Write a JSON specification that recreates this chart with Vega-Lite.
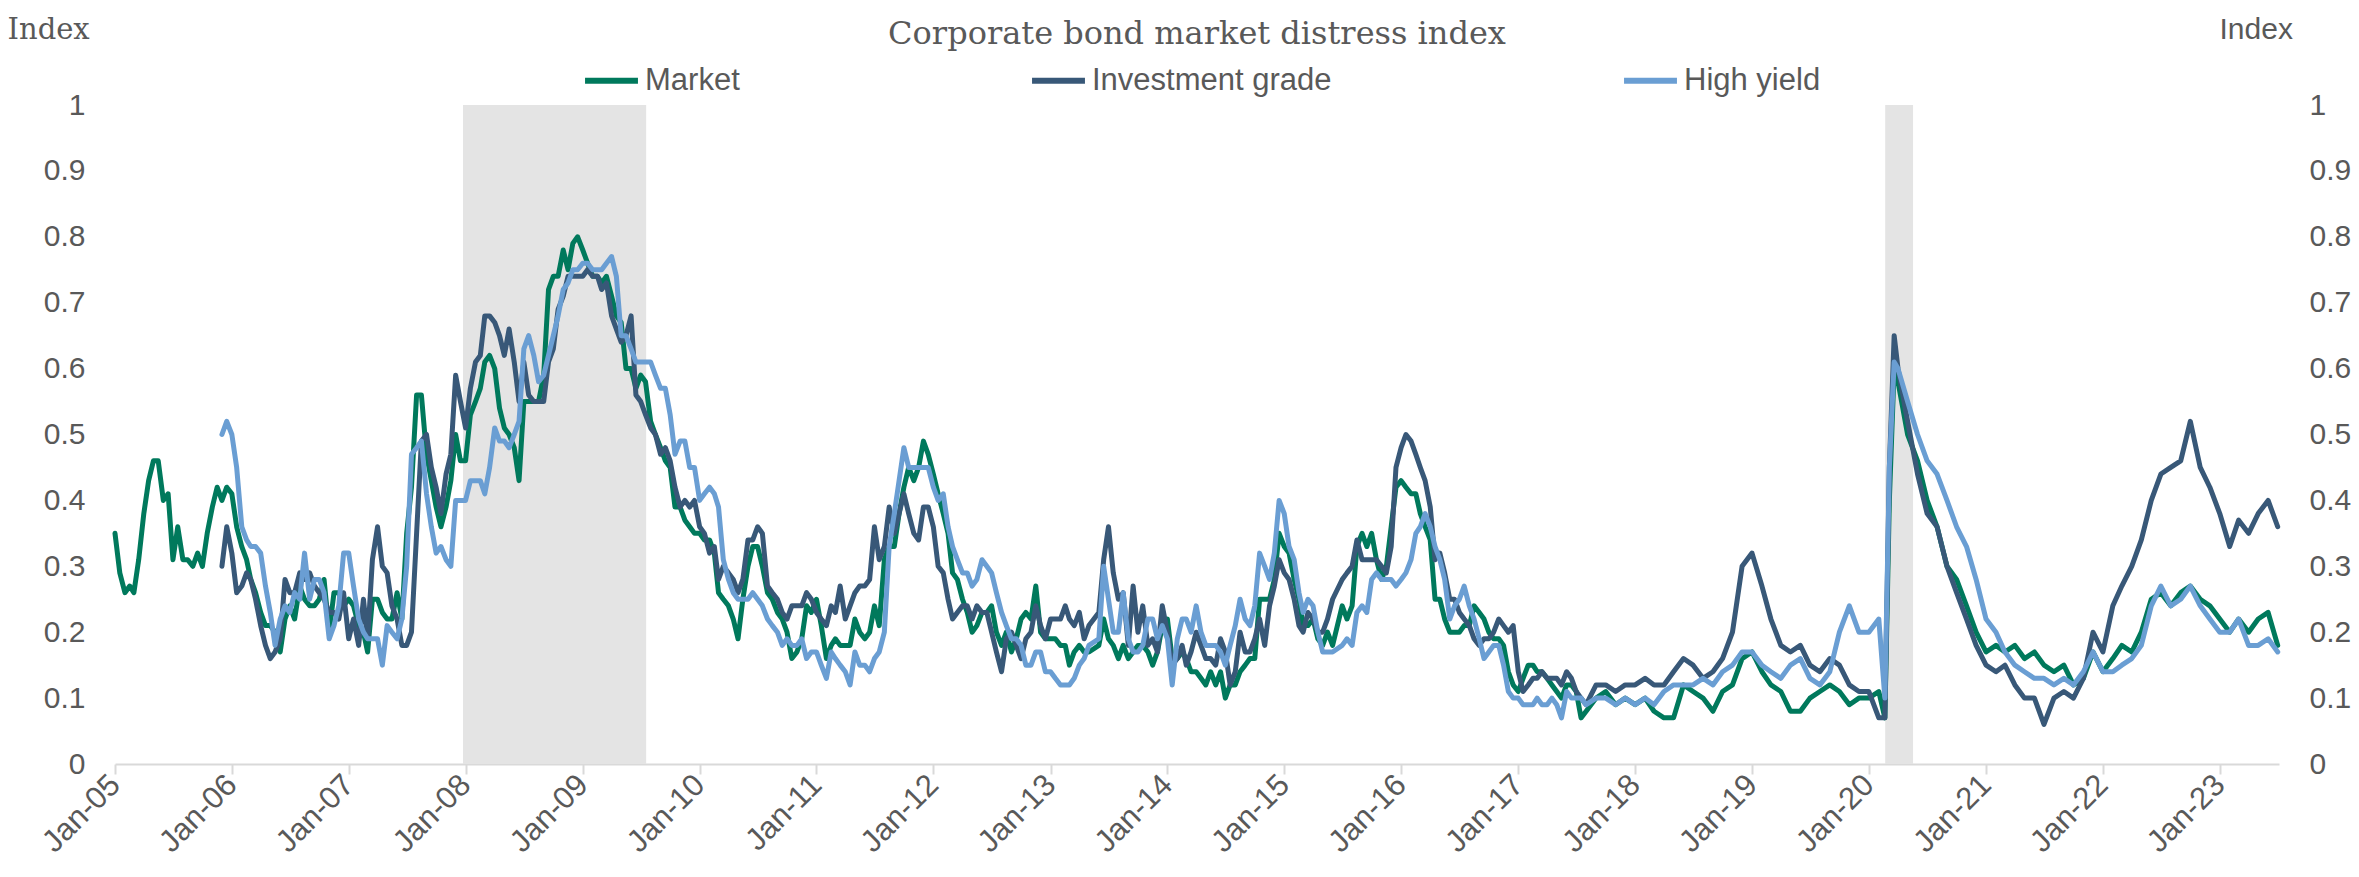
{
"$schema":"https://vega.github.io/schema/vega-lite/v6.json",
"width":2164,"height":659,
"autosize":{"type":"none"},
"padding":{"left":115,"top":105,"right":80,"bottom":113},
"background":"white",
"config":{"view":{"stroke":null},"font":"Liberation Sans"},
"title":{"text":"Corporate bond market distress index","font":"DejaVu Serif","fontSize":32,"fontWeight":"normal","color":"#595959","anchor":"middle","frame":"group","baseline":"alphabetic","offset":-62},
"datasets":{
"r":[{"s":"2007-12-24","e":"2009-07-18"},{"s":"2020-02-21","e":"2020-05-18"}],
"s":[
{"d":"2005-01-01","m":0.35},{"d":"2005-01-16","m":0.29},{"d":"2005-02-01","m":0.26},{"d":"2005-02-16","m":0.27},
{"d":"2005-03-01","m":0.26},{"d":"2005-03-16","m":0.31},{"d":"2005-04-01","m":0.38},{"d":"2005-04-16","m":0.43},
{"d":"2005-05-01","m":0.46},{"d":"2005-05-16","m":0.46},{"d":"2005-06-01","m":0.40},{"d":"2005-06-16","m":0.41},
{"d":"2005-07-01","m":0.31},{"d":"2005-07-16","m":0.36},{"d":"2005-08-01","m":0.31},{"d":"2005-08-16","m":0.31},
{"d":"2005-09-01","m":0.30},{"d":"2005-09-16","m":0.32},{"d":"2005-10-01","m":0.30},{"d":"2005-10-16","m":0.35},
{"d":"2005-11-01","m":0.39},{"d":"2005-11-16","m":0.42},
{"d":"2005-12-01","m":0.40,"i":0.30,"h":0.50},{"d":"2005-12-16","m":0.42,"i":0.36,"h":0.52},
{"d":"2006-01-01","m":0.41,"i":0.32,"h":0.50},{"d":"2006-01-16","m":0.36,"i":0.26,"h":0.45},
{"d":"2006-02-01","m":0.33,"i":0.27,"h":0.36},{"d":"2006-02-16","m":0.31,"i":0.29,"h":0.34},
{"d":"2006-03-01","m":0.28,"i":0.28,"h":0.33},{"d":"2006-03-16","m":0.26,"i":0.25,"h":0.33},
{"d":"2006-04-01","m":0.23,"i":0.21,"h":0.32},{"d":"2006-04-16","m":0.21,"i":0.18,"h":0.27},
{"d":"2006-05-01","m":0.21,"i":0.16,"h":0.23},{"d":"2006-05-16","m":0.20,"i":0.17,"h":0.18},
{"d":"2006-06-01","m":0.17,"i":0.19,"h":0.22},{"d":"2006-06-16","m":0.22,"i":0.28,"h":0.24},
{"d":"2006-07-01","m":0.24,"i":0.26,"h":0.23},{"d":"2006-07-16","m":0.22,"i":0.26,"h":0.26},
{"d":"2006-08-01","m":0.27,"i":0.29,"h":0.25},{"d":"2006-08-16","m":0.25,"i":0.28,"h":0.32},
{"d":"2006-09-01","m":0.24,"i":0.29,"h":0.25},{"d":"2006-09-16","m":0.24,"i":0.27,"h":0.28},
{"d":"2006-10-01","m":0.25,"i":0.26,"h":0.28},{"d":"2006-10-16","m":0.28,"i":0.25,"h":0.26},
{"d":"2006-11-01","m":0.20,"i":0.23,"h":0.19},{"d":"2006-11-16","m":0.26,"i":0.23,"h":0.21},
{"d":"2006-12-01","m":0.26,"i":0.22,"h":0.24},{"d":"2006-12-16","m":0.24,"i":0.26,"h":0.32},
{"d":"2007-01-01","m":0.25,"i":0.19,"h":0.32},{"d":"2007-01-16","m":0.24,"i":0.22,"h":0.27},
{"d":"2007-02-01","m":0.21,"i":0.18,"h":0.22},{"d":"2007-02-16","m":0.20,"i":0.25,"h":0.20},
{"d":"2007-03-01","m":0.17,"i":0.19,"h":0.19},{"d":"2007-03-16","m":0.25,"i":0.31,"h":0.19},
{"d":"2007-04-01","m":0.25,"i":0.36,"h":0.19},{"d":"2007-04-16","m":0.23,"i":0.30,"h":0.15},
{"d":"2007-05-01","m":0.22,"i":0.29,"h":0.21},{"d":"2007-05-16","m":0.22,"i":0.24,"h":0.20},
{"d":"2007-06-01","m":0.26,"i":0.22,"h":0.19},{"d":"2007-06-16","m":0.22,"i":0.18,"h":0.22},
{"d":"2007-07-01","m":0.35,"i":0.18,"h":0.30},{"d":"2007-07-16","m":0.42,"i":0.20,"h":0.47},
{"d":"2007-08-01","m":0.56,"i":0.35,"h":0.48},{"d":"2007-08-16","m":0.56,"i":0.49,"h":0.49},
{"d":"2007-09-01","m":0.47,"i":0.50,"h":0.41},{"d":"2007-09-16","m":0.43,"i":0.45,"h":0.36},
{"d":"2007-10-01","m":0.39,"i":0.42,"h":0.32},{"d":"2007-10-16","m":0.36,"i":0.38,"h":0.33},
{"d":"2007-11-01","m":0.39,"i":0.44,"h":0.31},{"d":"2007-11-16","m":0.43,"i":0.47,"h":0.30},
{"d":"2007-12-01","m":0.50,"i":0.59,"h":0.40},{"d":"2007-12-16","m":0.46,"i":0.55,"h":0.40},
{"d":"2008-01-01","m":0.46,"i":0.51,"h":0.40},{"d":"2008-01-16","m":0.53,"i":0.57,"h":0.43},
{"d":"2008-02-01","m":0.55,"i":0.61,"h":0.43},{"d":"2008-02-16","m":0.57,"i":0.62,"h":0.43},
{"d":"2008-03-01","m":0.61,"i":0.68,"h":0.41},{"d":"2008-03-16","m":0.62,"i":0.68,"h":0.45},
{"d":"2008-04-01","m":0.60,"i":0.67,"h":0.51},{"d":"2008-04-16","m":0.54,"i":0.65,"h":0.49},
{"d":"2008-05-01","m":0.51,"i":0.62,"h":0.49},{"d":"2008-05-16","m":0.50,"i":0.66,"h":0.48},
{"d":"2008-06-01","m":0.48,"i":0.61,"h":0.50},{"d":"2008-06-16","m":0.43,"i":0.55,"h":0.52},
{"d":"2008-07-01","m":0.55,"i":0.61,"h":0.63},{"d":"2008-07-16","m":0.55,"i":0.56,"h":0.65},
{"d":"2008-08-01","m":0.55,"i":0.55,"h":0.62},{"d":"2008-08-16","m":0.55,"i":0.55,"h":0.58},
{"d":"2008-09-01","m":0.59,"i":0.55,"h":0.59},{"d":"2008-09-16","m":0.72,"i":0.61,"h":0.62},
{"d":"2008-10-01","m":0.74,"i":0.63,"h":0.65},{"d":"2008-10-16","m":0.74,"i":0.69,"h":0.68},
{"d":"2008-11-01","m":0.78,"i":0.71,"h":0.72},{"d":"2008-11-16","m":0.75,"i":0.74,"h":0.73},
{"d":"2008-12-01","m":0.79,"i":0.74,"h":0.75},{"d":"2008-12-16","m":0.80,"i":0.74,"h":0.75},
{"d":"2009-01-01","m":0.78,"i":0.74,"h":0.76},{"d":"2009-01-16","m":0.76,"i":0.75,"h":0.76},
{"d":"2009-02-01","m":0.74,"i":0.74,"h":0.75},{"d":"2009-02-16","m":0.74,"i":0.74,"h":0.75},
{"d":"2009-03-01","m":0.73,"i":0.72,"h":0.75},{"d":"2009-03-16","m":0.74,"i":0.73,"h":0.76},
{"d":"2009-04-01","m":0.71,"i":0.68,"h":0.77},{"d":"2009-04-16","m":0.68,"i":0.66,"h":0.74},
{"d":"2009-05-01","m":0.67,"i":0.64,"h":0.65},{"d":"2009-05-16","m":0.60,"i":0.65,"h":0.65},
{"d":"2009-06-01","m":0.60,"i":0.68,"h":0.63},{"d":"2009-06-16","m":0.57,"i":0.56,"h":0.61},
{"d":"2009-07-01","m":0.59,"i":0.55,"h":0.61},{"d":"2009-07-16","m":0.58,"i":0.53,"h":0.61},
{"d":"2009-08-01","m":0.52,"i":0.51,"h":0.61},{"d":"2009-08-16","m":0.50,"i":0.50,"h":0.59},
{"d":"2009-09-01","m":0.48,"i":0.47,"h":0.57},{"d":"2009-09-16","m":0.46,"i":0.48,"h":0.57},
{"d":"2009-10-01","m":0.45,"i":0.46,"h":0.53},{"d":"2009-10-16","m":0.39,"i":0.42,"h":0.47},
{"d":"2009-11-01","m":0.39,"i":0.39,"h":0.49},{"d":"2009-11-16","m":0.37,"i":0.40,"h":0.49},
{"d":"2009-12-01","m":0.36,"i":0.39,"h":0.45},{"d":"2009-12-16","m":0.35,"i":0.40,"h":0.45},
{"d":"2010-01-01","m":0.35,"i":0.36,"h":0.40},{"d":"2010-01-16","m":0.34,"i":0.35,"h":0.41},
{"d":"2010-02-01","m":0.34,"i":0.32,"h":0.42},{"d":"2010-02-16","m":0.32,"i":0.33,"h":0.41},
{"d":"2010-03-01","m":0.26,"i":0.28,"h":0.39},{"d":"2010-03-16","m":0.25,"i":0.30,"h":0.31},
{"d":"2010-04-01","m":0.24,"i":0.29,"h":0.28},{"d":"2010-04-16","m":0.22,"i":0.28,"h":0.26},
{"d":"2010-05-01","m":0.19,"i":0.26,"h":0.25},{"d":"2010-05-16","m":0.25,"i":0.28,"h":0.25},
{"d":"2010-06-01","m":0.30,"i":0.34,"h":0.25},{"d":"2010-06-16","m":0.33,"i":0.34,"h":0.26},
{"d":"2010-07-01","m":0.33,"i":0.36,"h":0.25},{"d":"2010-07-16","m":0.30,"i":0.35,"h":0.24},
{"d":"2010-08-01","m":0.26,"i":0.27,"h":0.22},{"d":"2010-08-16","m":0.25,"i":0.26,"h":0.21},
{"d":"2010-09-01","m":0.23,"i":0.25,"h":0.20},{"d":"2010-09-16","m":0.22,"i":0.23,"h":0.18},
{"d":"2010-10-01","m":0.20,"i":0.22,"h":0.19},{"d":"2010-10-16","m":0.16,"i":0.24,"h":0.18},
{"d":"2010-11-01","m":0.17,"i":0.24,"h":0.18},{"d":"2010-11-16","m":0.19,"i":0.24,"h":0.19},
{"d":"2010-12-01","m":0.24,"i":0.26,"h":0.16},{"d":"2010-12-16","m":0.23,"i":0.25,"h":0.17},
{"d":"2011-01-01","m":0.25,"i":0.23,"h":0.17},{"d":"2011-01-16","m":0.21,"i":0.22,"h":0.15},
{"d":"2011-02-01","m":0.16,"i":0.21,"h":0.13},{"d":"2011-02-16","m":0.18,"i":0.24,"h":0.17},
{"d":"2011-03-01","m":0.19,"i":0.23,"h":0.16},{"d":"2011-03-16","m":0.18,"i":0.27,"h":0.15},
{"d":"2011-04-01","m":0.18,"i":0.22,"h":0.14},{"d":"2011-04-16","m":0.18,"i":0.24,"h":0.12},
{"d":"2011-05-01","m":0.22,"i":0.26,"h":0.17},{"d":"2011-05-16","m":0.20,"i":0.27,"h":0.15},
{"d":"2011-06-01","m":0.19,"i":0.27,"h":0.15},{"d":"2011-06-16","m":0.20,"i":0.28,"h":0.14},
{"d":"2011-07-01","m":0.24,"i":0.36,"h":0.16},{"d":"2011-07-16","m":0.21,"i":0.31,"h":0.17},
{"d":"2011-08-01","m":0.31,"i":0.33,"h":0.20},{"d":"2011-08-16","m":0.33,"i":0.39,"h":0.33},
{"d":"2011-09-01","m":0.33,"i":0.35,"h":0.38},{"d":"2011-09-16","m":0.38,"i":0.38,"h":0.43},
{"d":"2011-10-01","m":0.42,"i":0.41,"h":0.48},{"d":"2011-10-16","m":0.45,"i":0.38,"h":0.45},
{"d":"2011-11-01","m":0.43,"i":0.35,"h":0.45},{"d":"2011-11-16","m":0.45,"i":0.34,"h":0.45},
{"d":"2011-12-01","m":0.49,"i":0.39,"h":0.45},{"d":"2011-12-16","m":0.47,"i":0.39,"h":0.45},
{"d":"2012-01-01","m":0.44,"i":0.36,"h":0.42},{"d":"2012-01-16","m":0.41,"i":0.30,"h":0.40},
{"d":"2012-02-01","m":0.38,"i":0.29,"h":0.41},{"d":"2012-02-16","m":0.35,"i":0.25,"h":0.36},
{"d":"2012-03-01","m":0.29,"i":0.22,"h":0.33},{"d":"2012-03-16","m":0.28,"i":0.23,"h":0.31},
{"d":"2012-04-01","m":0.25,"i":0.24,"h":0.29},{"d":"2012-04-16","m":0.23,"i":0.24,"h":0.29},
{"d":"2012-05-01","m":0.20,"i":0.22,"h":0.27},{"d":"2012-05-16","m":0.21,"i":0.24,"h":0.28},
{"d":"2012-06-01","m":0.23,"i":0.23,"h":0.31},{"d":"2012-06-16","m":0.23,"i":0.23,"h":0.30},
{"d":"2012-07-01","m":0.24,"i":0.20,"h":0.29},{"d":"2012-07-16","m":0.20,"i":0.17,"h":0.26},
{"d":"2012-08-01","m":0.18,"i":0.14,"h":0.23},{"d":"2012-08-16","m":0.20,"i":0.19,"h":0.21},
{"d":"2012-09-01","m":0.17,"i":0.20,"h":0.19},{"d":"2012-09-16","m":0.19,"i":0.18,"h":0.19},
{"d":"2012-10-01","m":0.22,"i":0.16,"h":0.18},{"d":"2012-10-16","m":0.23,"i":0.19,"h":0.15},
{"d":"2012-11-01","m":0.22,"i":0.20,"h":0.15},{"d":"2012-11-16","m":0.27,"i":0.24,"h":0.17},
{"d":"2012-12-01","m":0.20,"i":0.21,"h":0.17},{"d":"2012-12-16","m":0.19,"i":0.19,"h":0.14},
{"d":"2013-01-01","m":0.19,"i":0.22,"h":0.14},{"d":"2013-01-16","m":0.19,"i":0.22,"h":0.13},
{"d":"2013-02-01","m":0.18,"i":0.22,"h":0.12},{"d":"2013-02-16","m":0.18,"i":0.24,"h":0.12},
{"d":"2013-03-01","m":0.15,"i":0.22,"h":0.12},{"d":"2013-03-16","m":0.17,"i":0.21,"h":0.13},
{"d":"2013-04-01","m":0.18,"i":0.23,"h":0.15},{"d":"2013-04-16","m":0.17,"i":0.19,"h":0.16},
{"d":"2013-05-01","m":0.17,"i":0.21,"h":0.18},
{"d":"2013-06-01","m":0.18,"i":0.23,"h":0.19},{"d":"2013-06-16","m":0.22,"i":0.31,"h":0.30},
{"d":"2013-07-01","m":0.19,"i":0.36,"h":0.25},{"d":"2013-07-16","m":0.18,"i":0.29,"h":0.20},
{"d":"2013-08-01","m":0.16,"i":0.25,"h":0.20},{"d":"2013-08-16","m":0.18,"i":0.26,"h":0.26},
{"d":"2013-09-01","m":0.16,"i":0.18,"h":0.19},{"d":"2013-09-16","m":0.17,"i":0.27,"h":0.17},
{"d":"2013-10-01","m":0.18,"i":0.20,"h":0.17},{"d":"2013-10-16","m":0.18,"i":0.24,"h":0.18},
{"d":"2013-11-01","m":0.17,"i":0.18,"h":0.22},{"d":"2013-11-16","m":0.15,"i":0.19,"h":0.22},
{"d":"2013-12-01","m":0.17,"i":0.17,"h":0.19},{"d":"2013-12-16","m":0.21,"i":0.24,"h":0.21},
{"d":"2014-01-01","m":0.22,"i":0.20,"h":0.19},{"d":"2014-01-16","m":0.16,"i":0.15,"h":0.12},
{"d":"2014-02-01","m":0.16,"i":0.16,"h":0.19},{"d":"2014-02-16","m":0.17,"i":0.18,"h":0.22},
{"d":"2014-03-01","m":0.16,"i":0.15,"h":0.22},{"d":"2014-03-16","m":0.14,"i":0.17,"h":0.20},
{"d":"2014-04-01","m":0.14,"i":0.20,"h":0.24},{"d":"2014-04-16","m":0.13,"i":0.18,"h":0.20},
{"d":"2014-05-01","m":0.12,"i":0.16,"h":0.18},{"d":"2014-05-16","m":0.14,"i":0.16,"h":0.18},
{"d":"2014-06-01","m":0.12,"i":0.15,"h":0.18},{"d":"2014-06-16","m":0.14,"i":0.19,"h":0.17},
{"d":"2014-07-01","m":0.10,"i":0.17,"h":0.15},{"d":"2014-07-16","m":0.12,"i":0.12,"h":0.18},
{"d":"2014-08-01","m":0.12,"i":0.14,"h":0.21},{"d":"2014-08-16","m":0.14,"i":0.20,"h":0.25},
{"d":"2014-09-01","m":0.15,"i":0.17,"h":0.22},{"d":"2014-09-16","m":0.16,"i":0.17,"h":0.21},
{"d":"2014-10-01","m":0.16,"i":0.19,"h":0.24},{"d":"2014-10-16","m":0.25,"i":0.22,"h":0.32},
{"d":"2014-11-01","m":0.25,"i":0.18,"h":0.30},{"d":"2014-11-16","m":0.25,"i":0.24,"h":0.28},
{"d":"2014-12-01","m":0.28,"i":0.27,"h":0.32},{"d":"2014-12-16","m":0.35,"i":0.31,"h":0.40},
{"d":"2015-01-01","m":0.33,"i":0.29,"h":0.38},{"d":"2015-01-16","m":0.32,"i":0.28,"h":0.33},
{"d":"2015-02-01","m":0.28,"i":0.25,"h":0.31},{"d":"2015-02-16","m":0.25,"i":0.21,"h":0.26},
{"d":"2015-03-01","m":0.21,"i":0.20,"h":0.23},{"d":"2015-03-16","m":0.21,"i":0.23,"h":0.25},
{"d":"2015-04-01","m":0.22,"i":0.22,"h":0.24},{"d":"2015-04-16","m":0.19,"i":0.20,"h":0.20},
{"d":"2015-05-01","m":0.18,"i":0.20,"h":0.17},{"d":"2015-05-16","m":0.20,"i":0.22,"h":0.17},
{"d":"2015-06-01","m":0.18,"i":0.25,"h":0.17},
{"d":"2015-07-01","m":0.24,"i":0.28,"h":0.18},{"d":"2015-07-16","m":0.22,"i":0.29,"h":0.19},
{"d":"2015-08-01","m":0.24,"i":0.30,"h":0.18},{"d":"2015-08-16","m":0.33,"i":0.34,"h":0.23},
{"d":"2015-09-01","m":0.35,"i":0.31,"h":0.24},{"d":"2015-09-16","m":0.33,"i":0.31,"h":0.23},
{"d":"2015-10-01","m":0.35,"i":0.31,"h":0.28},{"d":"2015-10-16","m":0.31,"i":0.31,"h":0.29},
{"d":"2015-11-01","m":0.28,"i":0.30,"h":0.28},{"d":"2015-11-16","m":0.30,"i":0.29,"h":0.28},
{"d":"2015-12-01","m":0.36,"i":0.33,"h":0.28},{"d":"2015-12-16","m":0.42,"i":0.45,"h":0.27},
{"d":"2016-01-01","m":0.43,"i":0.48,"h":0.28},{"d":"2016-01-16","m":0.42,"i":0.50,"h":0.29},
{"d":"2016-02-01","m":0.41,"i":0.49,"h":0.31},{"d":"2016-02-16","m":0.41,"i":0.47,"h":0.35},
{"d":"2016-03-01","m":0.38,"i":0.45,"h":0.36},{"d":"2016-03-16","m":0.36,"i":0.43,"h":0.38},
{"d":"2016-04-01","m":0.34,"i":0.39,"h":0.36},{"d":"2016-04-16","m":0.25,"i":0.31,"h":0.33},
{"d":"2016-05-01","m":0.25,"i":0.32,"h":0.31},{"d":"2016-05-16","m":0.22,"i":0.29,"h":0.28},
{"d":"2016-06-01","m":0.20,"i":0.25,"h":0.22},{"d":"2016-06-16","m":0.20,"i":0.25,"h":0.24},
{"d":"2016-07-01","m":0.20,"i":0.23,"h":0.25},{"d":"2016-07-16","m":0.21,"i":0.22,"h":0.27},
{"d":"2016-08-01","m":0.21,"i":0.21,"h":0.24},{"d":"2016-08-16","m":0.24,"i":0.19,"h":0.22},
{"d":"2016-09-01","m":0.23,"i":0.18,"h":0.19},{"d":"2016-09-16","m":0.22,"i":0.19,"h":0.16},
{"d":"2016-10-01","m":0.20,"i":0.19,"h":0.17},{"d":"2016-10-16","m":0.19,"i":0.20,"h":0.18},
{"d":"2016-11-01","m":0.19,"i":0.22,"h":0.18},{"d":"2016-11-16","m":0.18,"i":0.21,"h":0.15},
{"d":"2016-12-01","m":0.14,"i":0.20,"h":0.11},{"d":"2016-12-16","m":0.12,"i":0.21,"h":0.10},
{"d":"2017-01-01","m":0.11,"i":0.14,"h":0.10},{"d":"2017-01-16","m":0.13,"i":0.11,"h":0.09},
{"d":"2017-02-01","m":0.15,"i":0.12,"h":0.09},{"d":"2017-02-16","m":0.15,"i":0.13,"h":0.09},
{"d":"2017-03-01","m":0.14,"i":0.13,"h":0.10},{"d":"2017-03-16","m":0.14,"i":0.14,"h":0.09},
{"d":"2017-04-01","m":0.13,"i":0.13,"h":0.09},{"d":"2017-04-16","m":0.12,"i":0.13,"h":0.10},
{"d":"2017-05-01","m":0.11,"i":0.13,"h":0.09},{"d":"2017-05-16","m":0.10,"i":0.12,"h":0.07},
{"d":"2017-06-01","m":0.12,"i":0.14,"h":0.11},{"d":"2017-06-16","m":0.12,"i":0.13,"h":0.10},
{"d":"2017-07-01","m":0.11,"i":0.11,"h":0.10},{"d":"2017-07-16","m":0.07,"i":0.10,"h":0.10},
{"d":"2017-08-01","m":0.08,"i":0.09,"h":0.09},
{"d":"2017-09-01","m":0.10,"i":0.12,"h":0.10},{"d":"2017-10-01","m":0.11,"i":0.12,"h":0.10},
{"d":"2017-11-01","m":0.09,"i":0.11,"h":0.09},{"d":"2017-12-01","m":0.10,"i":0.12,"h":0.10},
{"d":"2018-01-01","m":0.09,"i":0.12,"h":0.09},{"d":"2018-02-01","m":0.10,"i":0.13,"h":0.10},
{"d":"2018-03-01","m":0.08,"i":0.12,"h":0.09},{"d":"2018-04-01","m":0.07,"i":0.12,"h":0.11},
{"d":"2018-05-01","m":0.07,"i":0.14,"h":0.12},{"d":"2018-06-01","m":0.12,"i":0.16,"h":0.12},
{"d":"2018-07-01","m":0.11,"i":0.15,"h":0.12},{"d":"2018-08-01","m":0.10,"i":0.13,"h":0.13},
{"d":"2018-09-01","m":0.08,"i":0.14,"h":0.12},{"d":"2018-10-01","m":0.11,"i":0.16,"h":0.14},
{"d":"2018-11-01","m":0.12,"i":0.20,"h":0.15},{"d":"2018-12-01","m":0.16,"i":0.30,"h":0.17},
{"d":"2019-01-01","m":0.17,"i":0.32,"h":0.17},{"d":"2019-02-01","m":0.14,"i":0.27,"h":0.15},
{"d":"2019-03-01","m":0.12,"i":0.22,"h":0.14},{"d":"2019-04-01","m":0.11,"i":0.18,"h":0.13},
{"d":"2019-05-01","m":0.08,"i":0.17,"h":0.15},{"d":"2019-06-01","m":0.08,"i":0.18,"h":0.16},
{"d":"2019-07-01","m":0.10,"i":0.15,"h":0.13},{"d":"2019-08-01","m":0.11,"i":0.14,"h":0.12},
{"d":"2019-09-01","m":0.12,"i":0.16,"h":0.14},{"d":"2019-10-01","m":0.11,"i":0.15,"h":0.20},
{"d":"2019-11-01","m":0.09,"i":0.12,"h":0.24},{"d":"2019-12-01","m":0.10,"i":0.11,"h":0.20},
{"d":"2020-01-01","m":0.10,"i":0.11,"h":0.20},{"d":"2020-02-01","m":0.11,"i":0.07,"h":0.22},
{"d":"2020-02-20","m":0.07,"i":0.07,"h":0.10},{"d":"2020-03-05","m":0.40,"i":0.45,"h":0.45},
{"d":"2020-03-20","m":0.60,"i":0.65,"h":0.61},{"d":"2020-04-01","m":0.58,"i":0.60,"h":0.60},
{"d":"2020-05-01","m":0.50,"i":0.52,"h":0.55},{"d":"2020-06-01","m":0.46,"i":0.44,"h":0.50},
{"d":"2020-07-01","m":0.40,"i":0.38,"h":0.46},{"d":"2020-08-01","m":0.36,"i":0.36,"h":0.44},
{"d":"2020-09-01","m":0.30,"i":0.30,"h":0.40},{"d":"2020-10-01","m":0.28,"i":0.26,"h":0.36},
{"d":"2020-11-01","m":0.24,"i":0.22,"h":0.33},{"d":"2020-12-01","m":0.20,"i":0.18,"h":0.28},
{"d":"2021-01-01","m":0.17,"i":0.15,"h":0.22},{"d":"2021-02-01","m":0.18,"i":0.14,"h":0.20},
{"d":"2021-03-01","m":0.17,"i":0.15,"h":0.17},{"d":"2021-04-01","m":0.18,"i":0.12,"h":0.15},
{"d":"2021-05-01","m":0.16,"i":0.10,"h":0.14},{"d":"2021-06-01","m":0.17,"i":0.10,"h":0.13},
{"d":"2021-07-01","m":0.15,"i":0.06,"h":0.13},{"d":"2021-08-01","m":0.14,"i":0.10,"h":0.12},
{"d":"2021-09-01","m":0.15,"i":0.11,"h":0.13},{"d":"2021-10-01","m":0.12,"i":0.10,"h":0.12},
{"d":"2021-11-01","m":0.13,"i":0.13,"h":0.14},{"d":"2021-12-01","m":0.17,"i":0.20,"h":0.17},
{"d":"2022-01-01","m":0.14,"i":0.17,"h":0.14},{"d":"2022-02-01","m":0.16,"i":0.24,"h":0.14},
{"d":"2022-03-01","m":0.18,"i":0.27,"h":0.15},{"d":"2022-04-01","m":0.17,"i":0.30,"h":0.16},
{"d":"2022-05-01","m":0.20,"i":0.34,"h":0.18},{"d":"2022-06-01","m":0.25,"i":0.40,"h":0.24},
{"d":"2022-07-01","m":0.26,"i":0.44,"h":0.27},{"d":"2022-08-01","m":0.24,"i":0.45,"h":0.24},
{"d":"2022-09-01","m":0.26,"i":0.46,"h":0.25},{"d":"2022-10-01","m":0.27,"i":0.52,"h":0.27},
{"d":"2022-11-01","m":0.25,"i":0.45,"h":0.24},{"d":"2022-12-01","m":0.24,"i":0.42,"h":0.22},
{"d":"2023-01-01","m":0.22,"i":0.38,"h":0.20},{"d":"2023-02-01","m":0.20,"i":0.33,"h":0.20},
{"d":"2023-03-01","m":0.22,"i":0.37,"h":0.22},{"d":"2023-04-01","m":0.20,"i":0.35,"h":0.18},
{"d":"2023-05-01","m":0.22,"i":0.38,"h":0.18},{"d":"2023-06-01","m":0.23,"i":0.40,"h":0.19},
{"d":"2023-07-01","m":0.18,"i":0.36,"h":0.17}
]},
"layer":[
{"data":{"name":"r"},"mark":{"type":"rect","color":"#E4E4E4"},
 "encoding":{
  "x":{"field":"s","type":"temporal",
   "scale":{"type":"utc","domain":[{"year":2005,"month":1,"date":1,"utc":true},{"year":2023,"month":7,"date":5,"utc":true}],"nice":false},
   "axis":{"tickCount":{"interval":"year","step":1},"format":"%b-%y","labelAngle":-45,"labelAlign":"right","labelBaseline":"middle","labelFontSize":31,"labelColor":"#595959","labelPadding":6,"labelOverlap":false,"labelBound":false,"labelFlush":false,"domainColor":"#D9D9D9","domainWidth":2,"tickColor":"#D9D9D9","tickWidth":2,"tickSize":10,"grid":false,"title":null}},
  "x2":{"field":"e"}}},
{"data":{"name":"s"},"mark":{"type":"line","strokeWidth":5,"strokeJoin":"round","strokeCap":"round"},
 "encoding":{
  "x":{"field":"d","type":"temporal"},
  "y":{"field":"m","type":"quantitative","scale":{"domain":[0,1],"nice":false},
   "axis":{"orient":"left","values":[0,0.1,0.2,0.3,0.4,0.5,0.6,0.7,0.8,0.9,1],"format":"~g","labelFontSize":30,"labelColor":"#595959","labelPadding":30,"domain":false,"ticks":false,"grid":false,
    "title":"Index","titleFont":"DejaVu Serif","titleFontSize":29,"titleFontWeight":"normal","titleColor":"#595959","titleAngle":0,"titleAlign":"left","titleBaseline":"alphabetic","titleX":-108,"titleY":-67}},
  "color":{"datum":"Market","type":"nominal",
   "scale":{"domain":["Market","Investment grade","High yield"],"range":["#00795C","#385878","#6A9ED3"]},
   "legend":{"orient":"none","legendX":467,"legendY":-54,"direction":"horizontal","title":null,"symbolType":"stroke","symbolStrokeWidth":6,"symbolSize":2800,"labelFontSize":31,"labelColor":"#595959","labelLimit":600,"columnPadding":280,"labelOffset":4,"padding":0}}}},
{"data":{"name":"s"},"mark":{"type":"line","strokeWidth":5,"strokeJoin":"round","strokeCap":"round"},
 "encoding":{
  "x":{"field":"d","type":"temporal"},
  "y":{"field":"i","type":"quantitative","axis":null},
  "color":{"datum":"Investment grade","type":"nominal"}}},
{"data":{"name":"s"},"mark":{"type":"line","strokeWidth":5,"strokeJoin":"round","strokeCap":"round"},
 "encoding":{
  "x":{"field":"d","type":"temporal"},
  "y":{"field":"h","type":"quantitative",
   "axis":{"orient":"right","values":[0,0.1,0.2,0.3,0.4,0.5,0.6,0.7,0.8,0.9,1],"format":"~g","labelFontSize":30,"labelColor":"#595959","labelPadding":30,"domain":false,"ticks":false,"grid":false,
    "title":"Index","titleFontSize":30,"titleFontWeight":"normal","titleColor":"#595959","titleAngle":0,"titleAlign":"left","titleBaseline":"alphabetic","titleX":-60,"titleY":-67}},
  "color":{"datum":"High yield","type":"nominal"}}}
],
"resolve":{"axis":{"y":"independent"}}
}
